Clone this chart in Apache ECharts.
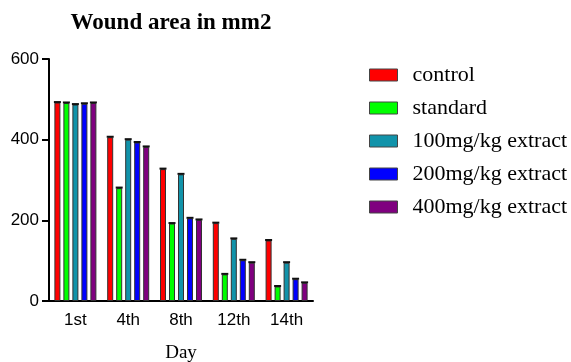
<!DOCTYPE html>
<html>
<head>
<meta charset="utf-8">
<script src="https://cdn.jsdelivr.net/npm/echarts@6/dist/echarts.min.js"></script>
<style>html,body{margin:0;padding:0;background:#fff}#c{width:571px;height:362px}</style>
</head>
<body>
<div id="c"></div>
<script>
var categories = ['1st', '4th', '8th', '12th', '14th'];
var seriesNames = ['control', 'standard', '100mg/kg extract', '200mg/kg extract', '400mg/kg extract'];
var control = [492, 406, 327, 193, 150];
var standard = [491, 280, 192, 66, 36];
var ext100 = [487, 400, 314, 154, 95];
var ext200 = [489, 393, 205, 101, 54];
var ext400 = [491, 382, 201, 95, 45];
var yTicks = [0, 200, 400, 600];
var colors = ['#ff0000', '#00ff00', '#1193aa', '#0000ff', '#7f007f'];

var values = [control, standard, ext100, ext200, ext400];
var BAR_W = 6, PITCH = 9;
var chart = echarts.init(document.getElementById('c'));

var barSeries = seriesNames.map(function (n, i) {
  return {
    name: n, type: 'bar', data: values[i],
    barWidth: BAR_W, barGap: '50%',
    itemStyle: { color: colors[i], borderColor: '#333', borderWidth: 1 }
  };
});
var capSeries = seriesNames.map(function (n, i) {
  return {
    type: 'custom', name: n + ' cap', silent: true, z: 5,
    data: values[i].map(function (v, k) { return [k, v]; }),
    encode: { x: 0, y: 1 },
    renderItem: function (params, api) {
      var p = api.coord([api.value(0), api.value(1)]);
      var cx = p[0] + (i - 2) * PITCH;
      return {
        type: 'rect',
        shape: { x: cx - 3.5, y: p[1] - 1.5, width: 7, height: 2 },
        style: { fill: '#111' }
      };
    }
  };
});

chart.setOption({
  animation: false,
  title: {
    text: 'Wound area in mm2',
    left: 166, top: 7, textAlign: 'center',
    textStyle: { fontFamily: 'Liberation Serif', fontWeight: 'bold', fontSize: 23, color: '#000' }
  },
  legend: {
    orient: 'vertical',
    left: 369, top: 64, padding: [0, 0, 0, 0],
    itemWidth: 28, itemHeight: 12, itemGap: 11,
    icon: 'rect',
    data: seriesNames,
    itemStyle: { borderColor: '#444', borderWidth: 1 },
    textStyle: { fontFamily: 'Liberation Serif', fontSize: 22, lineHeight: 22, color: '#000', padding: [0, 0, 0, 10] }
  },
  grid: { left: 49, top: 59, width: 264, bottom: 61, outerBoundsMode: 'none' },
  xAxis: {
    type: 'category',
    data: categories,
    name: 'Day', nameLocation: 'middle', nameGap: 43,
    nameTextStyle: { fontFamily: 'Liberation Serif', fontSize: 19, color: '#000' },
    axisLine: { lineStyle: { color: '#000', width: 2 } },
    axisTick: { alignWithLabel: true, length: 6, lineStyle: { color: '#000', width: 2 } },
    axisLabel: { fontFamily: 'Liberation Sans', fontSize: 17, color: '#000', margin: 11 }
  },
  yAxis: {
    type: 'value', min: 0, max: 600, interval: 200,
    axisLine: { show: true, lineStyle: { color: '#000', width: 2 } },
    axisTick: { show: true, length: 7, lineStyle: { color: '#000', width: 2 } },
    splitLine: { show: false },
    axisLabel: {
      fontFamily: 'Liberation Sans', fontSize: 17, color: '#000', margin: 10,
      formatter: function (v) { return yTicks.indexOf(v) >= 0 ? String(v) : ''; }
    }
  },
  series: barSeries.concat(capSeries)
});
</script>
</body>
</html>
